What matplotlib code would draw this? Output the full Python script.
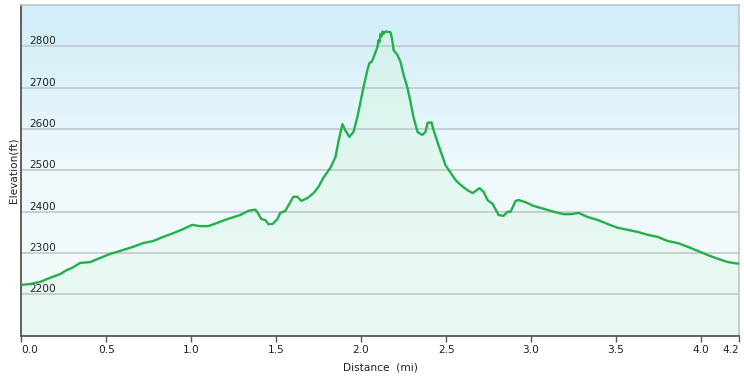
import numpy as np
import matplotlib
matplotlib.use("Agg")
import matplotlib.pyplot as plt
from matplotlib.colors import LinearSegmentedColormap

# Elevation profile (distance in mi, elevation in ft)
distance = [0.000, 0.051, 0.110, 0.169, 0.228, 0.269, 0.299, 0.346, 0.405, 0.464,
            0.523, 0.582, 0.658, 0.717, 0.776, 0.835, 0.894, 0.953, 1.006, 1.053,
            1.100, 1.153, 1.212, 1.289, 1.336, 1.377, 1.389, 1.413, 1.436, 1.454,
            1.478, 1.507, 1.524, 1.554, 1.583, 1.601, 1.625, 1.648, 1.684, 1.720,
            1.749, 1.778, 1.819, 1.849, 1.866, 1.890, 1.908, 1.931, 1.955, 1.978,
            1.996, 2.013, 2.037, 2.049, 2.061, 2.072, 2.096, 2.102, 2.108, 2.114,
            2.120, 2.126, 2.132, 2.143, 2.155, 2.173, 2.179, 2.185, 2.191, 2.214,
            2.232, 2.250, 2.273, 2.291, 2.308, 2.332, 2.349, 2.361, 2.379, 2.391,
            2.414, 2.426, 2.449, 2.496, 2.555, 2.585, 2.626, 2.656, 2.697, 2.721,
            2.744, 2.774, 2.809, 2.839, 2.862, 2.880, 2.909, 2.927, 2.968, 3.015,
            3.074, 3.133, 3.192, 3.233, 3.281, 3.334, 3.393, 3.452, 3.511, 3.570,
            3.629, 3.687, 3.746, 3.805, 3.864, 3.923, 3.982, 4.041, 4.100, 4.159,
            4.224]
elevation = [2223, 2225, 2230, 2240, 2249, 2259, 2264, 2276, 2278, 2288,
             2298, 2305, 2315, 2324, 2329, 2339, 2348, 2358, 2368, 2365,
             2365, 2373, 2382, 2392, 2402, 2405, 2399, 2382, 2380, 2370,
             2370, 2382, 2397, 2402, 2423, 2436, 2436, 2426, 2433, 2445,
             2460, 2482, 2506, 2532, 2569, 2612, 2596, 2581, 2593, 2629,
             2665, 2699, 2743, 2760, 2762, 2772, 2798, 2815, 2810, 2830,
             2824, 2836, 2830, 2836, 2835, 2834, 2824, 2810, 2791, 2779,
             2762, 2731, 2699, 2665, 2629, 2593, 2588, 2586, 2593, 2615,
             2616, 2598, 2569, 2513, 2477, 2465, 2452, 2445, 2457, 2448,
             2428, 2419, 2392, 2390, 2400, 2400, 2426, 2428, 2423, 2414,
             2407, 2400, 2394, 2394, 2397, 2387, 2380, 2370, 2361, 2356,
             2351, 2344, 2339, 2329, 2324, 2315, 2305, 2295, 2286, 2278,
             2274]

x_ticks = [0.0, 0.5, 1.0, 1.5, 2.0, 2.5, 3.0, 3.5, 4.0, 4.224]
x_tick_labels = ["0.0", "0.5", "1.0", "1.5", "2.0", "2.5", "3.0", "3.5", "4.0", "4.2"]
y_ticks = [2200, 2300, 2400, 2500, 2600, 2700, 2800]

plt.rcParams["font.family"] = ["DejaVu Sans"]

fig = plt.figure(figsize=(7.44, 3.83), dpi=100)
ax = fig.add_axes([21.3 / 744, 47.3 / 383, 717.7 / 744, 330.7 / 383])

x_min, x_max = 0.0, 4.224
y_min, y_max = 2100, 2900
ax.set_xlim(x_min, x_max)
ax.set_ylim(y_min, y_max)

# sky gradient behind the plot
sky = LinearSegmentedColormap.from_list("sky", ["#f6fcfd", "#eef9fc", "#d0edf9"])
grad = np.linspace(0, 1, 256).reshape(-1, 1)
ax.imshow(grad, cmap=sky, origin="lower", aspect="auto",
          extent=[x_min, x_max, y_min, y_max], zorder=0)

ax.fill_between(distance, elevation, y_min, color="#d2f5dc", alpha=0.35,
                linewidth=0, zorder=1)
for y in y_ticks:
    ax.axhline(y, color="#c3ccd0", linewidth=1.3, zorder=2)
ax.plot(distance, elevation, color="#22b04b", linewidth=1.7, zorder=3,
        solid_joinstyle="round")

# spines
for side in ["top", "right"]:
    ax.spines[side].set_color("#c4c4c4")
    ax.spines[side].set_linewidth(1.2)
for side in ["left", "bottom"]:
    ax.spines[side].set_color("#555555")
    ax.spines[side].set_linewidth(1.3)

ax.set_xticks(x_ticks)
ax.set_xticklabels(x_tick_labels)
ax.tick_params(axis="x", direction="out", length=4, width=1, color="#555555",
               pad=3, labelsize=7.6, labelcolor="#222222")
xl = ax.get_xticklabels()
xl[0].set_horizontalalignment("left")
xl[-1].set_horizontalalignment("right")

ax.set_yticks(y_ticks)
ax.tick_params(axis="y", length=0, pad=-6, labelsize=7.6, labelcolor="#222222")
for lab in ax.get_yticklabels():
    lab.set_horizontalalignment("left")
    lab.set_verticalalignment("bottom")

ax.set_ylabel("Elevation(ft)", fontsize=7.6, color="#222222", labelpad=2)
ax.set_xlabel("Distance  (mi)", fontsize=7.6, color="#222222", labelpad=5)

fig.savefig("out.png", dpi=100)
